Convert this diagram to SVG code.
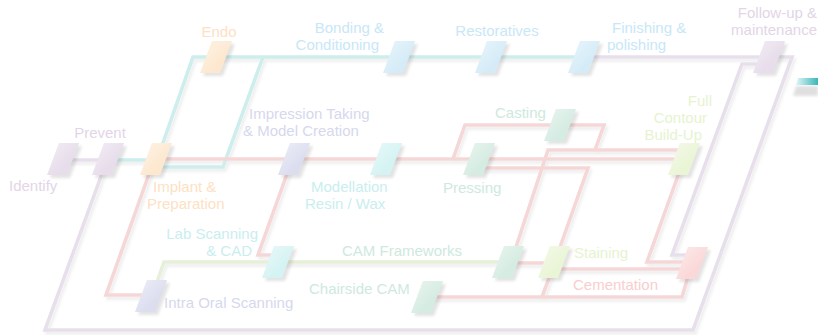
<svg xmlns="http://www.w3.org/2000/svg" width="818" height="335" viewBox="0 0 818 335">
<defs>
<filter id="blur" x="-50%" y="-50%" width="200%" height="200%"><feGaussianBlur stdDeviation="1.6"/></filter>
<filter id="lsh" x="-5%" y="-5%" width="110%" height="110%"><feDropShadow dx="2" dy="3" stdDeviation="1.5" flood-color="#000" flood-opacity="0.07"/></filter>
<linearGradient id="gloss" x1="0" y1="0" x2="1" y2="1"><stop offset="0" stop-color="#fff" stop-opacity="0.5"/><stop offset="0.65" stop-color="#fff" stop-opacity="0"/></linearGradient>
<linearGradient id="tealbar" x1="0" y1="0" x2="1" y2="0"><stop offset="0" stop-color="#e0f6f6"/><stop offset="1" stop-color="#3ab6b8"/></linearGradient>
<path id="para" d="M-4,-16H16L4,16H-16Z"/>
</defs>
<style>
text{font-family:"Liberation Sans",Arial,sans-serif;font-size:15px}
.e{text-anchor:end}.m{text-anchor:middle}
.sh{fill:#000;opacity:0.11;filter:url(#blur)}
.gl{fill:url(#gloss)}
.lav{stroke:#e8dfec}.teal{stroke:#cdeeec}.pink{stroke:#f6d7d7}.green{stroke:#e6f0d8}
.f-lav{fill:#e7ddeb}.t-lav{fill:#e3d5e7}
.f-org{fill:#fde8cf}.t-org{fill:#fde1c4}
.f-blu{fill:#d5ecf8}.t-blu{fill:#c8e7f7}
.f-ind{fill:#dcdef0}.t-ind{fill:#d6d8ed}
.f-cyn{fill:#d5f3f3}.t-cyn{fill:#c9eef0}
.f-grn{fill:#d5ece2}.t-grn{fill:#cee9de}
.f-ylw{fill:#eaf5d6}.t-ylw{fill:#e6f3d0}
.f-red{fill:#fbd8d8}.t-red{fill:#f8cece}
</style>
<rect width="818" height="335" fill="#fff"/>
<g id="connectors" fill="none" stroke-width="3.6" filter="url(#lsh)">
<path class="lav" d="M63,160H108"/>
<path class="lav" d="M584,57H768"/>
<path class="lav" d="M107,160L45,330H693L792,57H768"/>
<path class="lav" d="M768,64H742L672,255H692"/>
<path class="teal" d="M108,160H156"/>
<path class="teal" d="M157,160L193,57H584"/>
<path class="teal" d="M156,167H223L263,57"/>
<path class="pink" d="M156,159H684"/>
<path class="pink" d="M453,159L465,125H604L595,150"/>
<path class="pink" d="M684,150H548L515,250"/>
<path class="pink" d="M479,168H588L559,250"/>
<path class="pink" d="M508,263H554"/>
<path class="pink" d="M554,269H692"/>
<path class="pink" d="M555,262L542,297"/>
<path class="pink" d="M427,297H682L692,263"/>
<path class="pink" d="M684,159L647,262H692"/>
<path class="pink" d="M154,160L106,295H151"/>
<path class="pink" d="M292,160L258,255H278"/>
<path class="green" d="M157,282L164,262H508"/>
</g>
<g id="teal-bar">
<path d="M796,86H818V96H793Z" fill="#000" opacity="0.12" filter="url(#blur)"/>
<path d="M798,78H818V85H796Z" fill="url(#tealbar)"/>
</g>
<g id="identify"><use href="#para" class="sh" x="66" y="162"/><use href="#para" class="f-lav" x="63" y="159"/><use href="#para" class="gl" x="63" y="159"/><text class="t-lav" x="9" y="191">Identify</text></g>
<g id="prevent"><use href="#para" class="sh" x="111" y="162"/><use href="#para" class="f-lav" x="108" y="159"/><use href="#para" class="gl" x="108" y="159"/><text class="t-lav m" x="100" y="138">Prevent</text></g>
<g id="implant"><use href="#para" class="sh" x="159" y="162"/><use href="#para" class="f-org" x="156" y="159"/><use href="#para" class="gl" x="156" y="159"/><text class="t-org"><tspan x="153" y="192">Implant &amp;</tspan><tspan x="147" y="209">Preparation</tspan></text></g>
<g id="endo"><use href="#para" class="sh" x="219" y="60"/><use href="#para" class="f-org" x="216" y="57"/><use href="#para" class="gl" x="216" y="57"/><text class="t-org m" x="219" y="37">Endo</text></g>
<g id="bonding"><use href="#para" class="sh" x="402" y="60"/><use href="#para" class="f-blu" x="399" y="57"/><use href="#para" class="gl" x="399" y="57"/><text class="t-blu e"><tspan x="384" y="33">Bonding &amp;</tspan><tspan x="379" y="50">Conditioning</tspan></text></g>
<g id="restoratives"><use href="#para" class="sh" x="494" y="60"/><use href="#para" class="f-blu" x="491" y="57"/><use href="#para" class="gl" x="491" y="57"/><text class="t-blu m" x="497" y="36">Restoratives</text></g>
<g id="finishing"><use href="#para" class="sh" x="587" y="60"/><use href="#para" class="f-blu" x="584" y="57"/><use href="#para" class="gl" x="584" y="57"/><text class="t-blu"><tspan x="612" y="33">Finishing &amp;</tspan><tspan x="607" y="50">polishing</tspan></text></g>
<g id="follow-up"><use href="#para" class="sh" x="772" y="60"/><use href="#para" class="f-lav" x="769" y="57"/><use href="#para" class="gl" x="769" y="57"/><text class="t-lav e"><tspan x="817" y="18">Follow-up &amp;</tspan><tspan x="817" y="35">maintenance</tspan></text></g>
<g id="impression"><use href="#para" class="sh" x="297" y="162"/><use href="#para" class="f-ind" x="294" y="159"/><use href="#para" class="gl" x="294" y="159"/><text class="t-ind"><tspan x="249" y="119">Impression Taking</tspan><tspan x="243" y="136">&amp; Model Creation</tspan></text></g>
<g id="modellation"><use href="#para" class="sh" x="389" y="162"/><use href="#para" class="f-cyn" x="386" y="159"/><use href="#para" class="gl" x="386" y="159"/><text class="t-cyn"><tspan x="311" y="192">Modellation</tspan><tspan x="305" y="209">Resin / Wax</tspan></text></g>
<g id="casting"><use href="#para" class="sh" x="563" y="128"/><use href="#para" class="f-grn" x="560" y="125"/><use href="#para" class="gl" x="560" y="125"/><text class="t-grn" x="495" y="118">Casting</text></g>
<g id="pressing"><use href="#para" class="sh" x="482" y="162"/><use href="#para" class="f-grn" x="479" y="159"/><use href="#para" class="gl" x="479" y="159"/><text class="t-grn" x="443" y="193">Pressing</text></g>
<g id="full-contour"><use href="#para" class="sh" x="687" y="162"/><use href="#para" class="f-ylw" x="684" y="159"/><use href="#para" class="gl" x="684" y="159"/><text class="t-ylw e"><tspan x="712" y="106">Full</tspan><tspan x="707" y="123">Contour</tspan><tspan x="702" y="140">Build-Up</tspan></text></g>
<g id="lab-scanning"><use href="#para" class="sh" x="281" y="265"/><use href="#para" class="f-cyn" x="278" y="262"/><use href="#para" class="gl" x="278" y="262"/><text class="t-cyn e"><tspan x="258" y="239">Lab Scanning</tspan><tspan x="252" y="256">&amp; CAD</tspan></text></g>
<g id="cam-frameworks"><use href="#para" class="sh" x="511" y="265"/><use href="#para" class="f-grn" x="508" y="262"/><use href="#para" class="gl" x="508" y="262"/><text class="t-grn" x="342" y="256">CAM Frameworks</text></g>
<g id="staining"><use href="#para" class="sh" x="557" y="265"/><use href="#para" class="f-ylw" x="554" y="262"/><use href="#para" class="gl" x="554" y="262"/><text class="t-ylw" x="574" y="258">Staining</text></g>
<g id="cementation"><use href="#para" class="sh" x="695" y="266"/><use href="#para" class="f-red" x="692" y="263"/><use href="#para" class="gl" x="692" y="263"/><text class="t-red" x="573" y="290">Cementation</text></g>
<g id="intra-oral"><use href="#para" class="sh" x="154" y="299"/><use href="#para" class="f-ind" x="151" y="296"/><use href="#para" class="gl" x="151" y="296"/><text class="t-ind" x="164" y="308">Intra Oral Scanning</text></g>
<g id="chairside"><use href="#para" class="sh" x="430" y="300"/><use href="#para" class="f-grn" x="427" y="297"/><use href="#para" class="gl" x="427" y="297"/><text class="t-grn" x="309" y="294">Chairside CAM</text></g>
</svg>
